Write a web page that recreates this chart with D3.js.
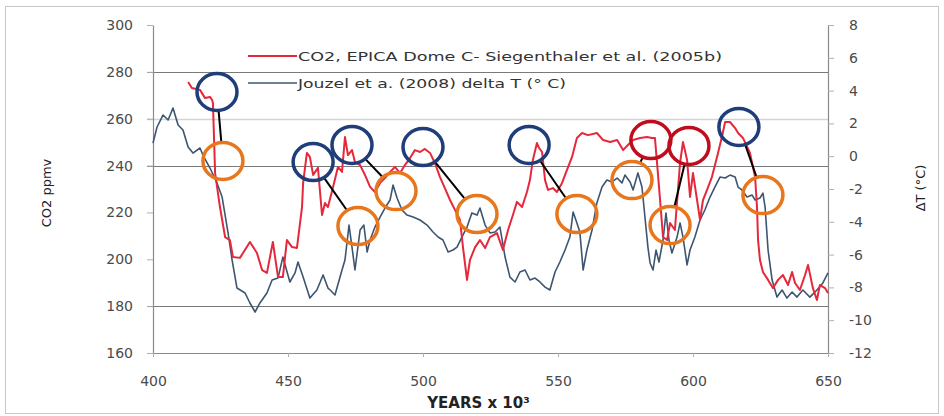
<!DOCTYPE html>
<html>
<head>
<meta charset="utf-8">
<script src="https://cdn.jsdelivr.net/npm/d3@7"></script>
<style>
  html, body { margin: 0; padding: 0; background: #fff; }
  svg { display: block; }
  text { font-family: "DejaVu Sans", sans-serif; }
</style>
</head>
<body>
<svg id="chart" width="944" height="416"></svg>
<script>
// ---------------- data ----------------
const co2Years = [413.0,414.4,417.4,419.3,421.1,421.9,422.2,423.0,424.8,426.7,428.5,429.6,432.2,435.9,438.5,440.4,442.2,444.4,446.3,448.1,449.6,451.5,453.3,455.2,455.6,457.0,458.1,459.3,461.1,462.6,463.7,464.8,466.7,468.5,470.0,471.1,472.2,473.7,474.8,476.7,478.5,480.4,482.2,484.1,485.9,487.8,489.6,491.5,493.3,495.2,497.0,498.9,500.7,502.6,504.4,506.3,508.1,510.0,511.9,513.7,514.8,516.3,517.4,519.3,521.1,523.0,524.8,527.4,529.6,531.5,533.3,534.8,536.7,538.5,539.6,540.7,542.2,543.0,544.1,545.2,546.3,548.1,549.6,551.5,553.3,555.2,557.0,558.9,561.1,564.4,566.7,569.3,571.9,574.1,575.9,577.8,580.4,583.0,584.8,585.9,587.0,588.9,590.4,591.5,593.3,595.2,596.3,597.8,598.9,600.0,601.5,602.6,603.7,605.2,607.0,608.9,610.7,611.9,613.7,615.6,616.7,618.5,621.1,623.0,623.7,624.1,624.8,625.9,627.8,629.6,631.5,633.3,635.2,636.7,637.8,639.6,641.5,642.6,644.4,645.9,647.0,648.9,650.0];
const co2Values = [275.7,273.1,272.3,268.8,269.3,268.0,266.7,236.8,222.3,209.5,208.2,201.0,200.6,207.4,202.7,195.4,194.2,207.4,192.4,192.4,208.2,205.2,204.8,222.3,232.6,245.4,243.7,236.0,239.0,218.9,224.0,222.3,230.9,239.4,237.3,252.2,244.5,246.6,241.5,240.2,236.0,230.9,228.7,232.6,234.7,237.3,239.4,236.8,240.2,243.2,246.6,245.8,247.1,245.4,241.1,235.1,230.4,225.3,221.0,216.8,205.2,191.2,199.7,205.2,208.2,204.8,209.5,211.2,204.0,212.5,218.9,224.5,222.3,228.7,233.8,242.4,249.6,247.5,245.8,233.8,229.6,230.4,228.7,232.6,238.1,243.7,251.8,253.9,253.0,253.9,250.9,250.1,250.9,246.6,248.8,250.9,251.8,252.2,251.8,251.8,236.8,209.5,208.2,215.5,212.5,241.1,250.1,242.4,226.6,236.8,225.3,216.8,225.3,229.6,235.1,243.7,252.2,258.6,258.6,256.0,253.9,251.8,245.4,235.1,222.3,208.2,199.7,194.6,191.2,187.7,191.2,193.3,189.0,194.6,189.9,186.9,193.3,197.6,187.7,182.6,189.0,187.7,185.6];

const dtYears = [400.0,401.5,403.7,405.6,407.4,409.3,411.1,413.0,414.8,417.4,418.5,421.1,423.7,425.6,427.8,429.3,431.1,434.1,435.9,437.8,439.6,442.2,444.1,446.3,448.1,450.7,452.6,453.7,455.6,458.1,460.7,463.0,464.8,465.6,467.4,470.0,471.1,472.6,473.7,474.8,476.7,478.1,479.3,480.4,482.2,484.1,485.9,487.8,488.9,490.4,492.2,494.1,496.3,498.9,501.5,503.7,505.6,507.4,509.3,511.1,512.6,514.4,516.3,518.1,520.0,521.1,523.0,524.8,526.7,528.5,530.4,532.2,534.1,535.9,537.8,539.6,541.5,543.3,545.2,547.0,548.9,550.7,552.6,554.4,555.6,557.0,558.1,559.3,560.7,562.6,564.4,566.3,568.1,570.0,571.9,573.7,574.8,576.7,577.8,579.6,581.1,582.2,583.3,584.1,585.2,586.3,587.4,588.9,590.0,591.1,592.2,594.1,595.2,596.3,597.8,598.9,600.7,602.6,604.4,606.3,608.1,610.0,611.9,613.7,615.6,616.7,618.1,620.0,621.9,623.0,624.8,625.9,626.7,627.8,629.3,631.1,633.0,634.8,636.7,638.5,640.7,643.3,645.9,648.1,650.0];
const dtValues = [0.80,1.78,2.51,2.21,2.94,1.90,1.60,0.56,0.19,0.50,0.07,-0.72,-1.63,-2.49,-4.68,-6.33,-8.04,-8.34,-8.95,-9.50,-8.95,-8.34,-7.55,-7.43,-6.15,-7.67,-7.12,-6.45,-7.37,-8.65,-8.16,-7.24,-8.04,-8.16,-8.46,-6.94,-6.33,-4.20,-5.54,-6.94,-4.50,-4.20,-5.84,-5.11,-4.32,-3.71,-3.16,-2.67,-1.76,-2.55,-3.28,-3.59,-3.71,-3.89,-4.20,-4.62,-4.93,-5.11,-5.84,-5.72,-5.54,-4.93,-4.32,-3.46,-3.59,-3.16,-4.20,-4.68,-4.62,-4.32,-6.15,-7.37,-7.67,-7.06,-6.94,-7.55,-7.43,-7.67,-7.98,-8.16,-7.06,-6.45,-5.72,-4.93,-3.40,-4.07,-4.62,-6.94,-5.72,-4.50,-2.85,-1.88,-1.45,-1.57,-1.33,-1.63,-1.15,-1.57,-2.06,-1.02,-1.88,-3.71,-5.54,-6.51,-6.94,-5.72,-6.45,-5.11,-3.46,-5.11,-5.90,-4.93,-4.07,-4.93,-6.63,-5.72,-4.93,-3.89,-3.28,-2.49,-1.88,-1.27,-1.33,-1.15,-1.27,-1.88,-2.06,-2.49,-2.37,-2.67,-2.55,-2.25,-3.10,-5.72,-7.55,-8.59,-8.16,-8.65,-8.28,-8.59,-8.16,-8.59,-8.16,-7.73,-7.12];

const xTicks = [400, 450, 500, 550, 600, 650];
const co2Ticks = [160, 180, 200, 220, 240, 260, 280, 300];
const dtTicks = [-12, -10, -8, -6, -4, -2, 0, 2, 4, 6, 8];
const gridMain = [280, 240, 180];
const gridFaint = [260];

const seriesNames = ["CO2,  EPICA Dome C- Siegenthaler et al. (2005b)", "Jouzel et a. (2008) delta T (° C)"];
const xTitle = "YEARS x 10³";
const yLeftTitle = "CO2 ppmv";
const yRightTitle = "ΔT (°C)";

// annotation circles (data coordinates: year, CO2 ppmv); kind: peak marker type
const markKinds   = ["lead","lead","lead","lead","lead","except","except","lead"];
const markYears   = [423.7, 459.3, 473.7, 500.0, 539.3, 584.4, 598.5, 617.0];
const markCo2     = [271.4, 241.5, 248.8, 247.9, 248.8, 250.9, 248.4, 256.5];
const tempYears   = [425.9, 475.9, 490.0, 520.0, 557.0, 577.4, 591.5, 625.9];
const tempCo2     = [242.0, 214.2, 229.1, 219.3, 219.3, 233.8, 214.6, 227.4];

// ---------------- drawing ----------------
const svg = d3.select("#chart");
const L = 153, R = 828, T = 25, B = 353;

const x = d3.scaleLinear().domain([400, 650]).range([L, R]);
const yL = d3.scaleLinear().domain([160, 300]).range([B, T]);
const yR = d3.scaleLinear().domain([-12, 8]).range([B, T]);

// outer frame
svg.append("rect").attr("x", 5.5).attr("y", 6.5).attr("width", 933).attr("height", 407)
  .attr("fill", "none").attr("stroke", "#c8c8c8").attr("stroke-width", 1);

// gridlines
svg.append("g").selectAll("line").data(gridFaint).join("line")
  .attr("x1", L - 6).attr("x2", R).attr("y1", d => Math.round(yL(d)) + 0.5).attr("y2", d => Math.round(yL(d)) + 0.5)
  .attr("stroke", "#d4d4d4").attr("stroke-width", 1.5);
svg.append("g").selectAll("line").data(gridMain).join("line")
  .attr("x1", L - 6).attr("x2", R).attr("y1", d => Math.round(yL(d)) + 0.5).attr("y2", d => Math.round(yL(d)) + 0.5)
  .attr("stroke", "#7a7a7a").attr("stroke-width", 1.2);

function styleAxis(g) {
  g.select(".domain").attr("stroke", "#8a8a8a").attr("stroke-width", 1.2);
  g.selectAll(".tick line").attr("stroke", "#b0b0b0");
  g.selectAll(".tick text").attr("fill", "#4a4a4a").style("font-size", "14px")
    .style("font-family", "'DejaVu Sans', sans-serif");
}

const fmt = d => String(d);

svg.append("g").attr("transform", `translate(${L},0)`)
  .call(d3.axisLeft(yL).tickValues(co2Ticks).tickFormat(fmt).tickSize(6).tickPadding(14).tickSizeOuter(0))
  .call(styleAxis);

svg.append("g").attr("transform", `translate(${R},0)`)
  .call(d3.axisRight(yR).tickValues(dtTicks).tickFormat(fmt).tickSize(6).tickPadding(15).tickSizeOuter(0))
  .call(styleAxis);

svg.append("g").attr("transform", `translate(0,${B})`)
  .call(d3.axisBottom(x).tickValues(xTicks).tickFormat(fmt).tickSize(4).tickPadding(19).tickSizeOuter(0))
  .call(styleAxis);

// series lines
const dtData = dtYears.map((yr, i) => [yr, dtValues[i]]);
const co2Data = co2Years.map((yr, i) => [yr, co2Values[i]]);

svg.append("path").datum(dtData)
  .attr("fill", "none").attr("stroke", "#3d5570").attr("stroke-width", 1.6).attr("stroke-linejoin", "round")
  .attr("d", d3.line().x(d => x(d[0])).y(d => yR(d[1])));

svg.append("path").datum(co2Data)
  .attr("fill", "none").attr("stroke", "#e5283c").attr("stroke-width", 2).attr("stroke-linejoin", "round")
  .attr("d", d3.line().x(d => x(d[0])).y(d => yL(d[1])));

// annotations
const kindColor = { lead: "#1f3d78", except: "#c00d1e" };
const rx = 20, ry = 18.5;
const marks = markKinds.map((k, i) => ({
  kind: k,
  a: [x(markYears[i]), yL(markCo2[i])],
  b: [x(tempYears[i]), yL(tempCo2[i])]
}));

const ann = svg.append("g");
ann.selectAll("line").data(marks).join("line")
  .each(function (m) {
    const dx = m.b[0] - m.a[0], dy = m.b[1] - m.a[1];
    const t = 1 / Math.sqrt((dx / rx) ** 2 + (dy / ry) ** 2);
    d3.select(this)
      .attr("x1", m.a[0] + dx * t).attr("y1", m.a[1] + dy * t)
      .attr("x2", m.b[0] - dx * t).attr("y2", m.b[1] - dy * t);
  })
  .attr("stroke", "#000").attr("stroke-width", 2);

ann.selectAll("ellipse.peak").data(marks).join("ellipse").attr("class", "peak")
  .attr("cx", m => m.a[0]).attr("cy", m => m.a[1]).attr("rx", rx).attr("ry", ry)
  .attr("fill", "none").attr("stroke", m => kindColor[m.kind]).attr("stroke-width", 3.5);

ann.selectAll("ellipse.temp").data(marks).join("ellipse").attr("class", "temp")
  .attr("cx", m => m.b[0]).attr("cy", m => m.b[1]).attr("rx", rx).attr("ry", ry)
  .attr("fill", "none").attr("stroke", "#e8761c").attr("stroke-width", 3.5);

// legend
const legendColors = ["#e5283c", "#3d5570"];
const legendY = [56, 83];
const legendTextLen = [424, 268];
const lg = svg.append("g");
seriesNames.forEach((name, i) => {
  lg.append("line").attr("x1", 248).attr("x2", 297).attr("y1", legendY[i]).attr("y2", legendY[i])
    .attr("stroke", legendColors[i]).attr("stroke-width", i === 0 ? 2 : 1.6);
  lg.append("text").attr("x", 298).attr("y", legendY[i] + 5)
    .attr("fill", "#333").style("font-size", "13px")
    .attr("textLength", legendTextLen[i]).attr("lengthAdjust", "spacingAndGlyphs")
    .text(name);
});

// axis titles
svg.append("text").attr("x", (L + R) / 2 - 12).attr("y", 408)
  .attr("text-anchor", "middle").attr("fill", "#222")
  .style("font-size", "15px").style("font-weight", "bold")
  .text(xTitle);

svg.append("text").attr("transform", "translate(51,193) rotate(-90)")
  .attr("text-anchor", "middle").attr("fill", "#222").style("font-size", "13px")
  .text(yLeftTitle);

svg.append("text").attr("transform", "translate(925,188) rotate(-90)")
  .attr("text-anchor", "middle").attr("fill", "#222").style("font-size", "13px")
  .text(yRightTitle);
</script>
</body>
</html>
